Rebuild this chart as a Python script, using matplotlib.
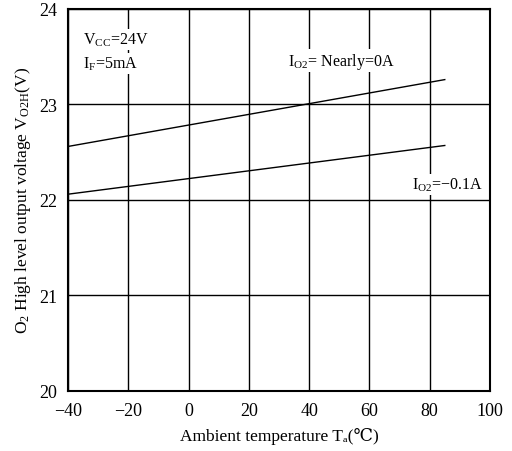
import matplotlib
matplotlib.use('Agg')
import matplotlib.pyplot as plt

plt.rcParams['font.family'] = ['Liberation Serif', 'DejaVu Serif']
plt.rcParams['mathtext.fontset'] = 'custom'
plt.rcParams['mathtext.rm'] = 'Liberation Serif'
plt.rcParams['mathtext.it'] = 'Liberation Serif:italic'

temp = [-40, 85]
vout_nearly0 = [22.56, 23.26]
vout_01 = [22.06, 22.57]

xticks = [-40, -20, 0, 20, 40, 60, 80, 100]
yticks = [20, 21, 22, 23, 24]

fig = plt.figure(figsize=(5.12, 4.52), dpi=100)
ax = fig.add_axes([0.133, 0.133, 0.824, 0.845])

ax.plot(temp, vout_nearly0, color='black', linewidth=1.0, zorder=3)
ax.plot(temp, vout_01, color='black', linewidth=1.0, zorder=3)

ax.set_xlim(-40, 100)
ax.set_ylim(20, 24)
ax.set_xticks(xticks)
ax.set_yticks(yticks)
ax.grid(True, color='black', linewidth=1.0)
ax.tick_params(length=0, labelsize=13, pad=8)
for s in ax.spines.values():
    s.set_linewidth(1.5)

box = dict(facecolor='white', edgecolor='none', pad=1)
ax.text(-35, 23.68, 'V$_{\\mathrm{CC}}$=24V', fontsize=11.5, va='center', bbox=box, zorder=4)
ax.text(-35, 23.43, 'I$_{\\mathrm{F}}$=5mA', fontsize=11.5, va='center', bbox=box, zorder=4)
ax.text(33, 23.46, 'I$_{\\mathrm{O2}}$= Nearly=0A', fontsize=11.5, va='center', bbox=box, zorder=4)
ax.text(74, 22.16, 'I$_{\\mathrm{O2}}$=\u22120.1A', fontsize=11.5, va='center', bbox=box, zorder=4)

ax.set_xlabel('Ambient temperature T\u2090(\u2103)', fontsize=12.5, labelpad=6)
ax.set_ylabel('O$_2$ High level output voltage V$_{\\mathrm{O2H}}$(V)', fontsize=12.5, labelpad=4)

fig.savefig('out.png', dpi=100)
